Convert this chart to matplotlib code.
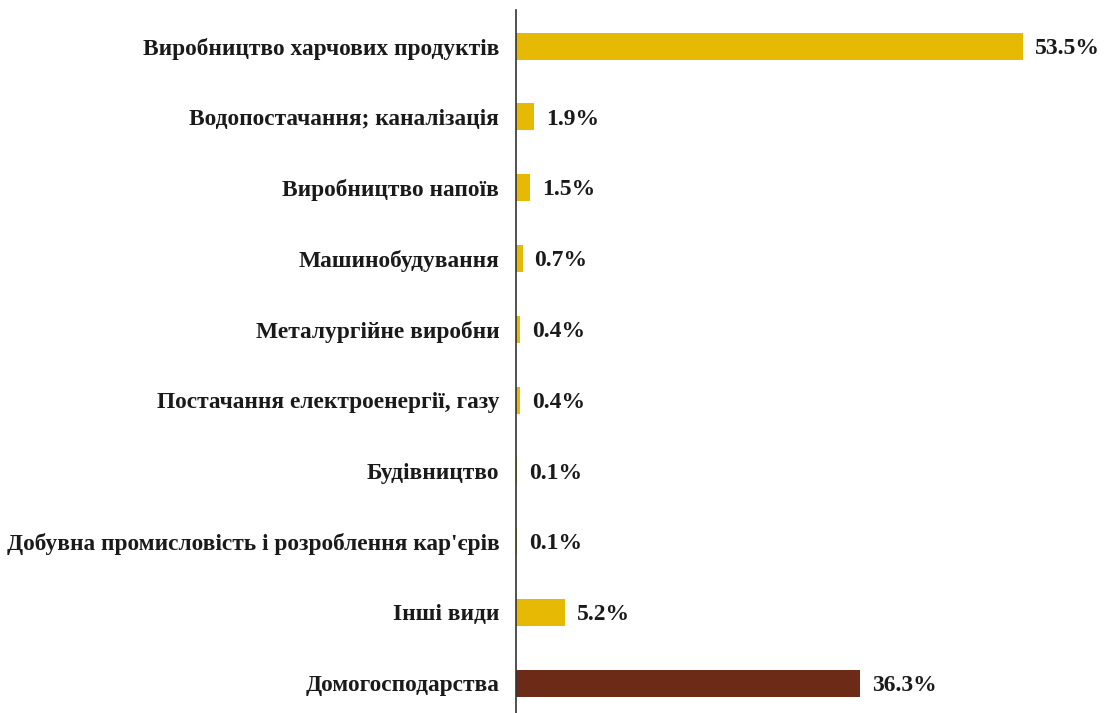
import matplotlib
matplotlib.use("Agg")
import matplotlib.pyplot as plt

categories = [
    "Виробництво харчових продуктів",
    "Водопостачання; каналізація",
    "Виробництво напоїв",
    "Машинобудування",
    "Металургійне виробни",
    "Постачання електроенергії, газу",
    "Будівництво",
    "Добувна промисловість і розроблення кар'єрів",
    "Інші види",
    "Домогосподарства",
]
values = [53.5, 1.9, 1.5, 0.7, 0.4, 0.4, 0.1, 0.1, 5.2, 36.3]
colors = ["#E6B905"] * 9 + ["#6B2B16"]

plt.rcParams['font.family'] = ['Liberation Serif', 'DejaVu Serif']

fig = plt.figure(figsize=(11.04, 7.13), dpi=100)
ax = fig.add_axes([516 / 1104, 0, 584 / 1104, 1 - 10 / 713])

pos = list(range(len(categories)))
ax.barh(pos, values, height=0.38, color=colors)

for p, v in zip(pos, values):
    ax.text(v + 1.25, p + 0.03, f"{v:.1f}%", va="center", ha="left",
            fontsize=17, fontweight="bold", color="#1a1a1a")

ax.set_yticks(pos)
ax.set_yticklabels(categories, fontsize=16.8, fontweight="bold", color="#1a1a1a")
ax.tick_params(axis="y", length=0, pad=12)
ax.set_xticks([])
ax.set_xlim(0, 584 / 9.48)
ax.set_ylim(9.42, -0.51)

for s in ["top", "right", "bottom"]:
    ax.spines[s].set_visible(False)
ax.spines["left"].set_color("#333333")
ax.spines["left"].set_linewidth(1.2)

fig.savefig("out.png", dpi=100)
